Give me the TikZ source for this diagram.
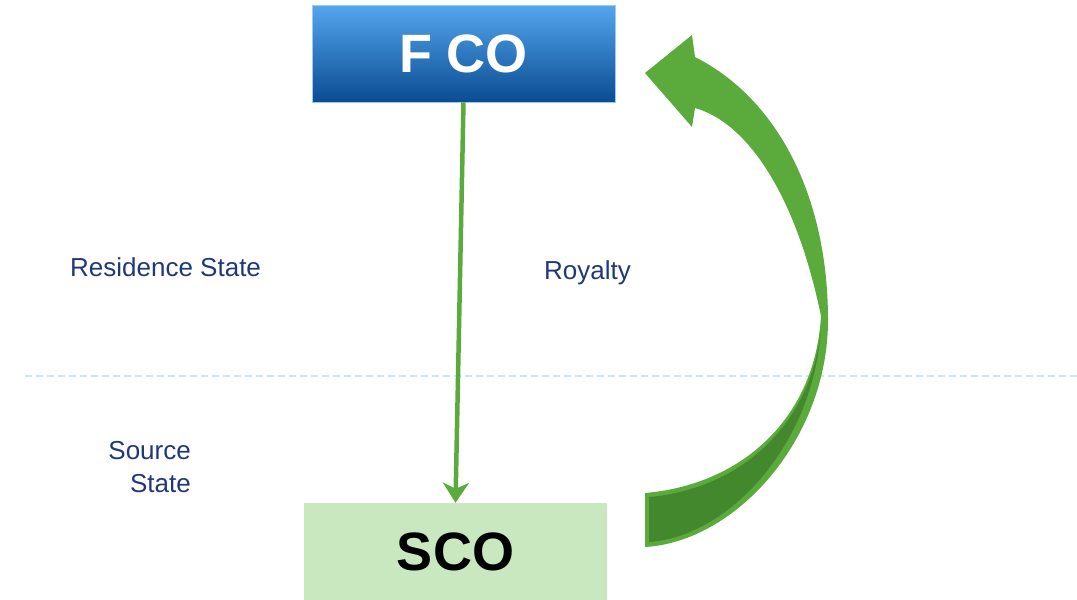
\documentclass[tikz,border=0pt]{standalone}
\usepackage{fontspec}
\setmainfont{Liberation Sans}
\usetikzlibrary{arrows.meta}
\definecolor{navytext}{RGB}{31,56,120}
\definecolor{boxtop}{RGB}{84,166,238}
\definecolor{boxbot}{RGB}{10,76,146}
\definecolor{scofill}{RGB}{201,232,192}
\definecolor{arrowgreen}{RGB}{90,170,60}
\definecolor{arrowdark}{RGB}{68,136,46}
\definecolor{dividerblue}{RGB}{205,230,245}
\tikzset{
  label text/.style={text=navytext, font=\fontsize{26}{33}\selectfont, inner sep=0pt},
  entity/.style={minimum width=303pt, minimum height=97pt, inner sep=0pt,
    font=\fontsize{54}{60}\selectfont\bfseries},
  flow/.style={draw=arrowgreen, line width=4.5pt,
    -{Stealth[length=20pt, width=26pt, inset=6pt]}},
}
\begin{document}
\begin{tikzpicture}[x=1pt, y=-1pt]
  \useasboundingbox (0,0) rectangle (1077,600);
  % divider between the two states
  \draw[dividerblue, line width=1.5pt, dash pattern=on 7pt off 4pt] (25,376) -- (1077,376);
  % parties
  \node[entity, top color=boxtop, bottom color=boxbot, text=white,
        draw=boxtop!60!white, line width=0.6pt] (fco) at (463.5,53.5) {F CO};
  \node[entity, fill=scofill, text=black] (sco) at (455.5,551.5) {SCO};
  % state labels
  \node[label text, anchor=west] (res) at (70,267) {Residence State};
  \node[label text, align=right, anchor=east] (src) at (191,467) {Source\\State};
  \node[label text, anchor=west] (roy) at (544,273) {Royalty};
  % licence flow from FCO down to SCO
  \draw[flow] (fco.south) -- (sco.north);
  % royalty payment: curved ribbon arrow from SCO back up to FCO
  \fill[arrowgreen]
    (645,493) -- (645,547)
    .. controls (735,542) and (828,440) .. (828,320)
    .. controls (828,200) and (780,100) .. (695,57)
    -- (692,35) -- (645,73) -- (692,127) -- (695,108)
    .. controls (745,122) and (795,190) .. (821,316)
    .. controls (815,420) and (740,485) .. (645,493) -- cycle;
  \fill[arrowdark]
    (649,497) -- (649,542)
    .. controls (728,537) and (814,445) .. (821,328)
    .. controls (812,425) and (740,489) .. (649,497) -- cycle;
\end{tikzpicture}
\end{document}
